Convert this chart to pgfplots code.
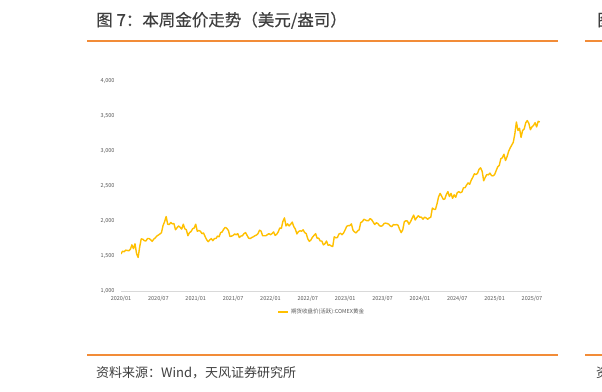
\documentclass[border=0pt]{standalone}
\usepackage{fontspec}
\setmainfont{Noto Sans CJK SC}
\newfontfamily\titlefont{Noto Sans CJK SC}[FakeBold=0.4]
\usepackage{pgfplots}
\pgfplotsset{compat=1.18}
\definecolor{goldline}{HTML}{FFC000}
\definecolor{rulec}{HTML}{F28C38}
\definecolor{titlegray}{HTML}{3F3F3F}
\definecolor{tickgray}{HTML}{595959}
\definecolor{axisgray}{HTML}{D9D9D9}
\begin{document}
\begin{tikzpicture}[x=1pt,y=1pt]
\useasboundingbox (0,0) rectangle (602,391);
\fill[white] (0,0) rectangle (602,391);
\node[anchor=base west, font=\titlefont\fontsize{16.5}{16.5}\selectfont, text=titlegray, inner sep=0] at (96,365) {图\hspace{4pt}7：本周金价走势（美元/盎司）};
\node[anchor=base west, font=\titlefont\fontsize{16.5}{16.5}\selectfont, text=titlegray, inner sep=0] at (597,365) {图};
\draw[rulec, line width=1.5pt] (87,350) -- (558,350);
\draw[rulec, line width=1.5pt] (585,350) -- (602,350);
\draw[rulec, line width=1.5pt] (87,36) -- (558,36);
\draw[rulec, line width=1.5pt] (585,36) -- (602,36);
\node[anchor=base west, font=\fontsize{13}{13}\selectfont, text=titlegray, inner sep=0] at (96,14) {资料来源：Wind，天风证券研究所};
\node[anchor=base west, font=\fontsize{13}{13}\selectfont, text=titlegray, inner sep=0] at (596,14) {资};
\begin{axis}[
  at={(121pt,100.3pt)}, anchor=south west,
  scale only axis, width=420.3pt, height=210pt,
  xmin=0, xmax=67.5, ymin=1000, ymax=4000,
  axis x line=bottom, axis y line=left,
  x axis line style={draw=axisgray, -},
  y axis line style={draw=none},
  major tick length=0pt,
  ytick={1000,1500,2000,2500,3000,3500,4000},
  scaled y ticks=false,
  /pgf/number format/assume math mode=true,
  /pgf/number format/1000 sep={,},
  xtick={0,6,12,18,24,30,36,42,48,54,60,66},
  xticklabels={2020/01,2020/07,2021/01,2021/07,2022/01,2022/07,2023/01,2023/07,2024/01,2024/07,2025/01,2025/07},
  ticklabel style={font=\fontsize{5.5}{6}\selectfont, text=tickgray},
  yticklabel style={xshift=-3pt},
  xticklabel style={yshift=-1.5pt},
  legend style={at={(0.478,-0.101)}, anchor=center, draw=none, fill=none,
    font=\fontsize{5.5}{6}\selectfont, text=tickgray, inner sep=1pt},
  legend image code/.code={\draw[#1, line width=1.3pt] (0pt,0pt) -- (10pt,0pt);},
]
\addplot[goldline, line width=1.4pt, line join=round, mark=none] table {
x y
0 1525
0.25 1565
0.5 1555
0.75 1580
1 1575
1.25 1570
1.5 1590
1.75 1655
2 1600
2.25 1670
2.5 1530
2.75 1475
3 1625
3.25 1740
3.5 1735
3.75 1715
4 1710
4.25 1745
4.5 1745
4.75 1730
5 1705
5.25 1735
5.5 1755
5.75 1780
6 1795
6.25 1810
6.5 1830
6.75 1930
7 1985
7.25 2060
7.5 1950
7.75 1945
8 1975
8.25 1955
8.5 1960
8.75 1870
9 1900
9.25 1925
9.5 1905
9.75 1880
10 1950
10.25 1885
10.5 1870
10.75 1785
11 1830
11.25 1845
11.5 1885
11.75 1895
12 1950
12.25 1850
12.5 1860
12.75 1850
13 1815
13.25 1825
13.5 1775
13.75 1730
14 1700
14.25 1725
14.5 1745
14.75 1715
15 1745
15.25 1745
15.5 1780
15.75 1770
16 1830
16.25 1840
16.5 1880
16.75 1905
17 1890
17.25 1860
17.5 1775
17.75 1780
18 1790
18.25 1810
18.5 1800
18.75 1815
19 1760
19.25 1780
19.5 1785
19.75 1815
20 1830
20.25 1790
20.5 1750
20.75 1745
21 1760
21.25 1770
21.5 1785
21.75 1795
22 1815
22.25 1865
22.5 1850
22.75 1785
23 1785
23.25 1785
23.5 1800
23.75 1815
24 1800
24.25 1815
24.5 1840
24.75 1790
25 1805
25.25 1840
25.5 1895
25.75 1890
26 1990
26.25 2040
26.5 1925
26.75 1955
27 1925
27.25 1950
27.5 1980
27.75 1915
28 1880
28.25 1810
28.5 1845
28.75 1855
29 1850
29.25 1870
29.5 1830
29.75 1815
30 1740
30.25 1705
30.5 1725
30.75 1765
31 1790
31.25 1815
31.5 1750
31.75 1750
32 1710
32.25 1710
32.5 1655
32.75 1670
33 1710
33.25 1650
33.5 1655
33.75 1640
34 1630
34.25 1770
34.5 1755
34.75 1760
35 1810
35.25 1820
35.5 1800
35.75 1825
36 1870
36.25 1920
36.5 1930
36.75 1930
37 1955
37.25 1865
37.5 1840
37.75 1825
38 1855
38.25 1870
38.5 1975
38.75 1985
39 2020
39.25 2010
39.5 2000
39.75 2000
40 2030
40.25 2015
40.5 1980
40.75 1945
41 1970
41.25 1960
41.5 1930
41.75 1920
42 1930
42.25 1960
42.5 1965
42.75 1960
43 1950
43.25 1925
43.5 1915
43.75 1945
44 1940
44.25 1945
44.5 1935
44.75 1875
45 1830
45.25 1870
45.5 1985
45.75 2000
46 1995
46.25 1950
46.5 1985
46.75 2035
47 2080
47.25 2010
47.5 2045
47.75 2070
48 2050
48.25 2050
48.5 2020
48.75 2050
49 2040
49.25 2020
49.5 2040
49.75 2050
50 2180
50.25 2165
50.5 2160
50.75 2240
51 2340
51.25 2390
51.5 2350
51.75 2305
52 2310
52.25 2375
52.5 2415
52.75 2345
53 2390
53.25 2320
53.5 2370
53.75 2335
54 2400
54.25 2415
54.5 2400
54.75 2410
55 2470
55.25 2470
55.5 2510
55.75 2540
56 2520
56.25 2580
56.5 2620
56.75 2670
57 2660
57.25 2675
57.5 2735
57.75 2755
58 2705
58.25 2570
58.5 2620
58.75 2660
59 2655
59.25 2680
59.5 2645
59.75 2640
60 2660
60.25 2715
60.5 2770
60.75 2790
61 2885
61.25 2900
61.5 2950
61.75 2860
62 2915
62.25 2990
62.5 3040
62.75 3080
63 3120
63.25 3240
63.5 3410
63.75 3290
64 3320
64.25 3190
64.5 3290
64.75 3310
65 3400
65.25 3430
65.5 3390
65.75 3300
66 3340
66.25 3360
66.5 3400
66.75 3340
67 3420
67.25 3410
};
\addlegendentry{期货收盘价(活跃):COMEX黄金}
\end{axis}
\end{tikzpicture}
\end{document}
